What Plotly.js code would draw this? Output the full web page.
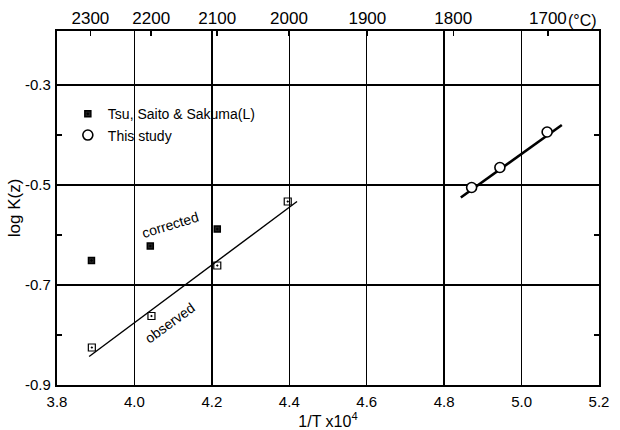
<!DOCTYPE html>
<html>
<head>
<meta charset="utf-8">
<script src="https://cdn.plot.ly/plotly-3.0.1.min.js"></script>
<style>html,body{margin:0;padding:0;background:#fff;}#chart{width:620px;height:430px;}</style>
</head>
<body>
<div id="chart"></div>
<script>
// Tsu, Saito & Sakuma (L)
const tsuX = [3.889, 4.041, 4.214];
const tsuCorrectedY = [-0.651, -0.622, -0.588];
const tsuObsX = [3.890, 4.044, 4.214, 4.396];
const tsuObservedY = [-0.825, -0.762, -0.661, -0.533];
const obsLineX = [3.883, 4.420];
const obsLineY = [-0.843, -0.533];
// This study
const studyX = [4.871, 4.944, 5.066];
const studyY = [-0.505, -0.465, -0.394];
const studyLineX = [4.843, 5.104];
const studyLineY = [-0.525, -0.380];
// axes
const xTicks = [3.8, 4.0, 4.2, 4.4, 4.6, 4.8, 5.0, 5.2];
const xTickText = ["3.8", "4.0", "4.2", "4.4", "4.6", "4.8", "5.0", "5.2"];
const yTicks = [-0.9, -0.7, -0.5, -0.3];
const yTickText = ["-0.9", "-0.7", "-0.5", "-0.3"];
const yMinorTicks = [-0.8, -0.6, -0.4];
const tempsC = [2300, 2200, 2100, 2000, 1900, 1800, 1700];
const tempText = ["2300", "2200", "2100", "2000", "1900", "1800", "1700"];

const font = "Liberation Sans, Arial, sans-serif";
const tempPos = tempsC.map(t => 1e4 / (t + 273.15));

const traces = [
  {x: obsLineX, y: obsLineY, mode: 'lines', line: {color: '#000', width: 1.4}, showlegend: false, hoverinfo: 'skip'},
  {x: studyLineX, y: studyLineY, mode: 'lines', line: {color: '#000', width: 2.6}, showlegend: false, hoverinfo: 'skip'},
  {x: tsuX, y: tsuCorrectedY, mode: 'markers', name: 'Tsu, Saito & Sakuma(L)',
   marker: {symbol: 'square-dot', size: 6, color: '#222', line: {color: '#000', width: 1.5}}},
  {x: tsuObsX, y: tsuObservedY, mode: 'markers', showlegend: false,
   marker: {symbol: 'square-open-dot', size: 7, color: '#000', line: {color: '#000', width: 1.2}}},
  {x: studyX, y: studyY, mode: 'markers', name: 'This study',
   marker: {symbol: 'circle', size: 10, color: '#fff', line: {color: '#000', width: 1.6}}},
  {x: [tempPos[0]], y: [-0.9], xaxis: 'x2', yaxis: 'y2', mode: 'markers', marker: {opacity: 0}, showlegend: false, hoverinfo: 'skip'}
];

const layout = {
  width: 620, height: 430,
  margin: {l: 57, r: 21, t: 31, b: 45},
  paper_bgcolor: '#fff', plot_bgcolor: '#fff',
  font: {family: font, size: 15, color: '#000'},
  showlegend: true,
  legend: {x: 0.02, y: 0.81, xanchor: 'left', yanchor: 'top', bgcolor: 'rgba(255,255,255,0)',
           font: {family: font, size: 14, color: '#000'}, tracegroupgap: 0, itemwidth: 30},
  xaxis: {
    range: [3.8, 5.2], tickmode: 'array', tickvals: xTicks, ticktext: xTickText,
    showgrid: true, gridcolor: '#000', gridwidth: 1.5, zeroline: false,
    showline: true, linecolor: '#000', linewidth: 2.2, mirror: true,
    ticks: '', ticklabelstandoff: 2, tickfont: {size: 15},
    title: {text: '1/T x10<sup>4</sup>', font: {size: 16}, standoff: 0}
  },
  xaxis2: {
    overlaying: 'x', side: 'top', matches: 'x', anchor: 'y',
    tickmode: 'array', tickvals: tempPos, ticktext: tempText,
    ticks: 'inside', ticklen: 5, tickwidth: 1.5, tickcolor: '#000',
    showgrid: false, showline: false, zeroline: false, ticklabelstandoff: 3, tickfont: {size: 17}
  },
  yaxis: {
    range: [-0.9, -0.192], tickmode: 'array', tickvals: yTicks, ticktext: yTickText,
    showgrid: true, gridcolor: '#000', gridwidth: 1.5, zeroline: false,
    showline: true, linecolor: '#000', linewidth: 2.2, mirror: true,
    ticks: '', ticklabelstandoff: 1, tickfont: {size: 15},
    minor: {tickmode: 'array', tickvals: yMinorTicks, ticks: 'inside', ticklen: 5, tickwidth: 1.5, tickcolor: '#000', showgrid: false},
    title: {text: 'log K(z)', font: {size: 17}, standoff: 0}
  },
  yaxis2: {
    overlaying: 'y', side: 'right', matches: 'y', anchor: 'x',
    tickmode: 'array', tickvals: yMinorTicks, ticks: 'inside', ticklen: 5, tickwidth: 1.5, tickcolor: '#000',
    showticklabels: false, showgrid: false, showline: false, zeroline: false
  },
  annotations: [
    {x: 4.091, y: -0.579, xref: 'x', yref: 'y', text: 'corrected', showarrow: false, textangle: -17,
     font: {family: font, size: 14, color: '#000'}},
    {x: 4.091, y: -0.776, xref: 'x', yref: 'y', text: 'observed', showarrow: false, textangle: -36,
     font: {family: font, size: 14, color: '#000'}},
    {x: (566 - 57) / 542, y: (385 - 20) / 354, xref: 'paper', yref: 'paper', xanchor: 'left', yanchor: 'middle',
     text: '(°C)', showarrow: false, font: {family: font, size: 16, color: '#000'}}
  ]
};

Plotly.newPlot('chart', traces, layout, {staticPlot: true, displayModeBar: false});
</script>
</body>
</html>
